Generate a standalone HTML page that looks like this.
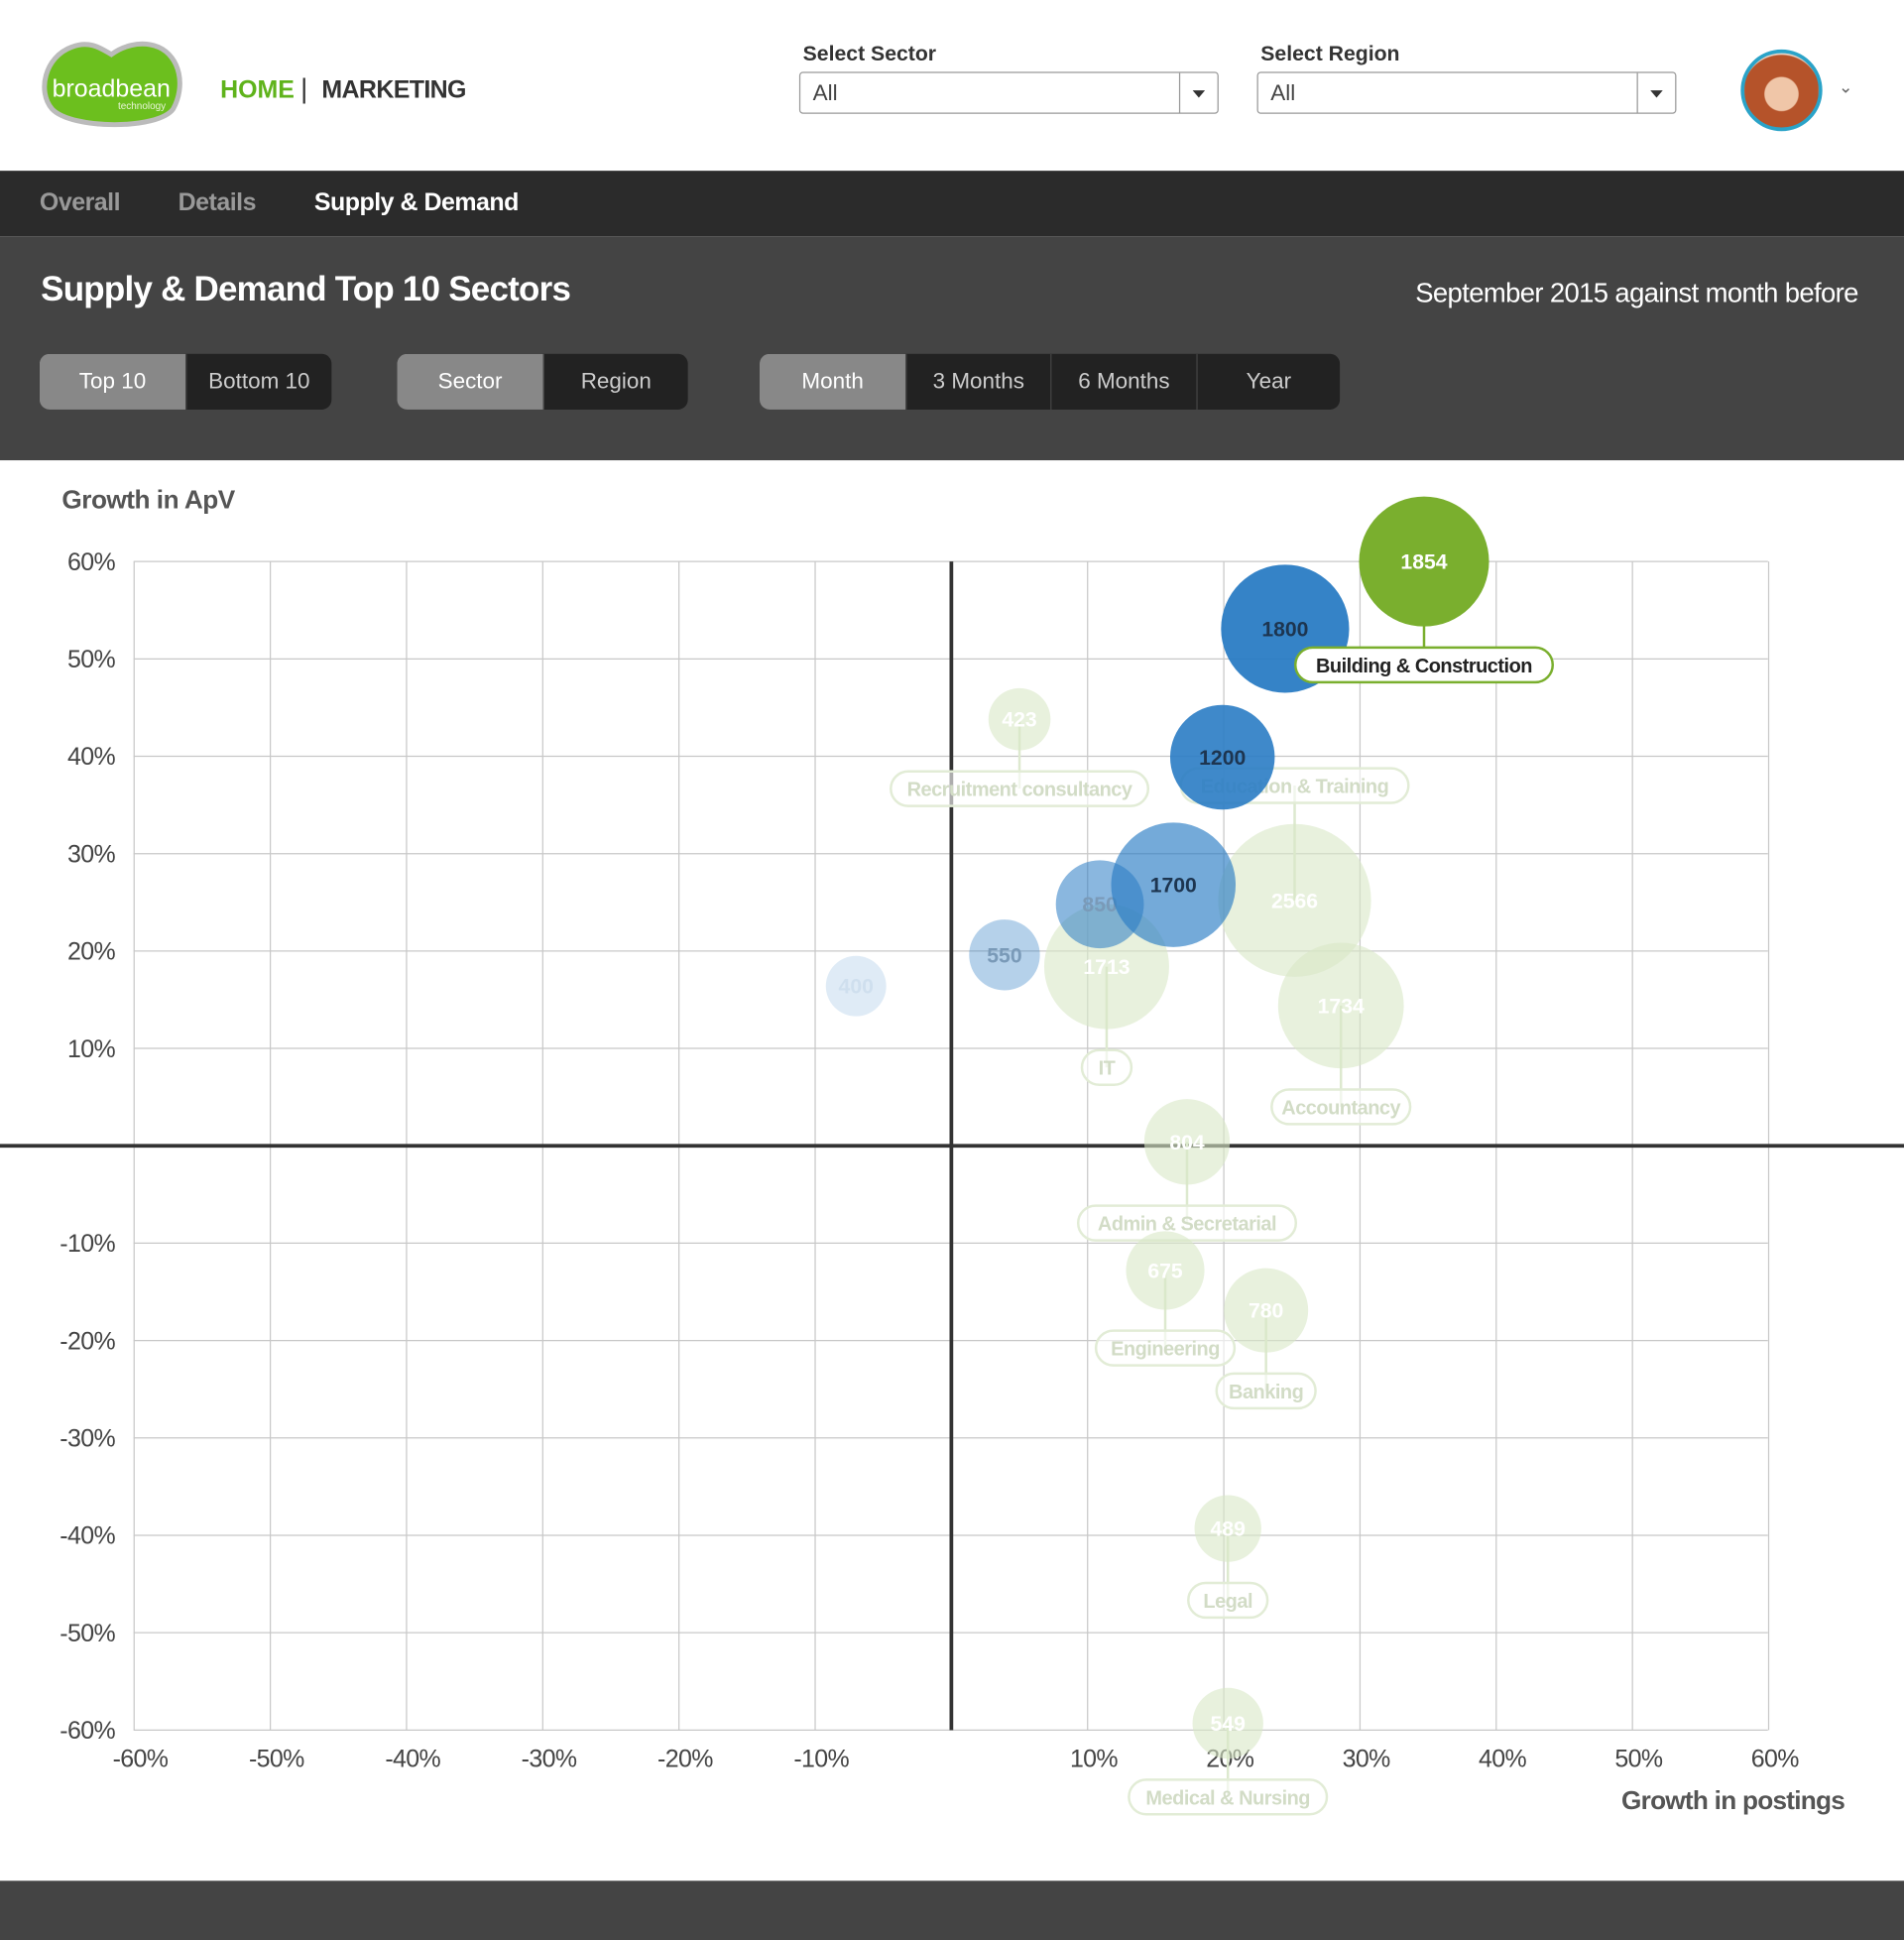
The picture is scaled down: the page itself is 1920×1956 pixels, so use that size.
<!DOCTYPE html>
<html><head><meta charset="utf-8">
<style>
html,body{margin:0;padding:0;width:1920px;height:1956px;overflow:hidden;background:#fff;font-family:"Liberation Sans",sans-serif;}
#wrap{position:absolute;left:0;top:0;width:1539px;height:1568px;transform:scale(1.24756);transform-origin:0 0;}
.abs{position:absolute;}
.lbl{font-size:17px;font-weight:bold;color:#333;}
.sel{position:absolute;height:34px;border:1px solid #999;border-radius:3px;background:#fff;font-size:18px;color:#444;box-sizing:border-box;padding:6px 10px;}
.sel .arr{position:absolute;right:0;top:0;width:30px;height:32px;border-left:1px solid #999;}
.sel .arr:after{content:"";position:absolute;left:10px;top:14px;border-left:5px solid transparent;border-right:5px solid transparent;border-top:6px solid #333;}
.grp{position:absolute;top:286px;height:45px;border-radius:8px;overflow:hidden;display:flex;background:#222;}
.grp div{height:45px;line-height:45px;text-align:center;color:#ccc;font-size:18px;border-left:1px solid #444;box-sizing:border-box;}
.grp div:first-child{border-left:none;}
.grp .on{background:#888;color:#fff;}
.nav{position:absolute;top:153px;font-size:20px;font-weight:bold;color:#999;letter-spacing:-0.4px;}
</style></head><body>
<div id="wrap">
<div class="abs" style="left:0;top:0;width:1539px;height:138px;background:#fff"></div>
<svg class="abs" style="left:28px;top:30px" width="126" height="78">
<path d="M30 8 C45 2 55 10 62 14 C70 8 85 2 100 8 C118 16 122 40 112 58 C100 75 30 75 14 58 C2 44 8 16 30 8Z" fill="#6cbf1e" stroke="#bbb" stroke-width="4"/>
<text x="62" y="48" text-anchor="middle" fill="#fff" font-size="20" font-family="Liberation Sans">broadbean</text>
<text x="106" y="58" text-anchor="end" fill="#e8f5d8" font-size="8" font-family="Liberation Sans">technology</text>
</svg>
<div class="abs" style="left:178px;top:62px;font-size:20px;font-weight:bold;color:#5fb31b">HOME</div>
<div class="abs" style="left:243px;top:59px;font-size:22px;color:#333">|</div>
<div class="abs" style="left:260px;top:62px;font-size:20px;font-weight:bold;color:#333;letter-spacing:-0.5px">MARKETING</div>
<div class="abs lbl" style="left:649px;top:34px">Select Sector</div>
<div class="sel" style="left:646px;top:58px;width:339px">All<div class="arr"></div></div>
<div class="abs lbl" style="left:1019px;top:34px">Select Region</div>
<div class="sel" style="left:1016px;top:58px;width:339px">All<div class="arr"></div></div>
<div class="abs" style="left:1407px;top:40px;width:60px;height:60px;border-radius:50%;border:3px solid #2aa3c8;background:radial-gradient(circle at 50% 55%,#f0c6a8 0 30%,#b5532a 32% 70%,#e8d6c8 72%)"></div>
<div class="abs" style="left:1486px;top:62px;font-size:14px;color:#666">&#8964;</div>

<div class="abs" style="left:0;top:138px;width:1539px;height:53px;background:#2b2b2b"></div>
<div class="nav" style="left:32px">Overall</div>
<div class="nav" style="left:144px">Details</div>
<div class="nav" style="left:254px;color:#fff">Supply &amp; Demand</div>

<div class="abs" style="left:0;top:191px;width:1539px;height:181px;background:#444"></div>
<div class="abs" style="left:33px;top:218px;font-size:28px;font-weight:bold;color:#fff;letter-spacing:-0.6px">Supply &amp; Demand Top 10 Sectors</div>
<div class="abs" style="right:37px;top:224px;font-size:22px;color:#fff;letter-spacing:-0.5px">September 2015 against month before</div>
<div class="grp" style="left:32px"><div class="on" style="width:118px">Top 10</div><div style="width:118px">Bottom 10</div></div>
<div class="grp" style="left:321px"><div class="on" style="width:118px">Sector</div><div style="width:117px">Region</div></div>
<div class="grp" style="left:614px"><div class="on" style="width:118px">Month</div><div style="width:117px">3 Months</div><div style="width:118px">6 Months</div><div style="width:116px">Year</div></div>

<div class="abs" style="left:0;top:1520px;width:1539px;height:48px;background:#444"></div>

<svg id="chart" class="abs" style="left:0;top:0" width="1539" height="1568"></svg>
</div>
<script>
const xTicks=[-60,-50,-40,-30,-20,-10,10,20,30,40,50,60];
const yTicks=[60,50,40,30,20,10,-10,-20,-30,-40,-50,-60];
const sectors=["Recruitment consultancy","Education & Training","IT","Accountancy","Admin & Secretarial","Engineering","Banking","Legal","Medical & Nursing"];
const sectorX=[5,25.2,11.4,28.6,17.3,15.7,23.1,20.3,20.3];
const sectorY=[43.8,25.2,18.4,14.4,0.4,-12.8,-16.9,-39.3,-59.3];
const sectorSize=[423,2566,1713,1734,804,675,780,489,549];
const sectorLabelSide=[1,-1,1,1,1,1,1,1,1];
const blueX=[-7,3.9,10.9,16.3,19.9,24.5];
const blueY=[16.4,19.6,24.8,26.8,39.9,53.1];
const blueSize=[400,550,850,1700,1200,1800];
const blueOpacity=[0.15,0.35,0.55,0.65,0.9,0.95];
const hiName="Building & Construction";
const hiX=34.7, hiY=60, hiSize=1854;

const NS="http://www.w3.org/2000/svg";
const svg=document.getElementById('chart');
const xs=v=>769+v*11.01;
const ys=v=>926-v*7.87;
const rs=v=>1.22*Math.sqrt(v);
function mk(tag,attrs,parent){const e=document.createElementNS(NS,tag);for(const k in attrs)e.setAttribute(k,attrs[k]);(parent||svg).appendChild(e);return e;}
const F='"Liberation Sans",sans-serif';

for(const t of xTicks){
 const l=mk('line',{x1:xs(t),x2:xs(t),y1:ys(60),y2:ys(-60),stroke:'#c8c8c8','stroke-width':1});
 
 
 const tx=mk('text',{x:xs(t)+5,y:1428,'text-anchor':'middle','font-size':20,fill:'#444','font-family':F,'letter-spacing':'-0.5'});
 tx.textContent=t+'%';
 
 
}
for(const t of yTicks){
 const l=mk('line',{x1:108,x2:1429,y1:ys(t),y2:ys(t),stroke:'#c8c8c8','stroke-width':1});
 
 
 const tx=mk('text',{x:93,y:ys(t)+7,'text-anchor':'end','font-size':20,fill:'#444','font-family':F,'letter-spacing':'-0.5'});
 tx.textContent=t+'%';
 
 
}
const zx=mk('line',{x1:xs(0),x2:xs(0),y1:ys(60),y2:ys(-60),stroke:'#333','stroke-width':3});


const zy=mk('line',{x1:0,x2:1539,y1:ys(0),y2:ys(0),stroke:'#333','stroke-width':3});


const yt=mk('text',{x:50,y:411,'font-size':21,'font-weight':'bold',fill:'#555','font-family':F,'letter-spacing':'-0.4'});
yt.textContent='Growth in ApV';


const xt=mk('text',{x:1491,y:1462,'text-anchor':'end','font-size':21,'font-weight':'bold',fill:'#555','font-family':F,'letter-spacing':'-0.6'});
xt.textContent='Growth in postings';



function pill(cx,cy,text,stroke,fill,col){
 const w=text.length*8+24;
 const r=mk('rect',{x:cx-w/2,y:cy-14,width:w,height:28,rx:14,fill:fill,stroke:stroke,'stroke-width':2});
 
 
 const t=mk('text',{x:cx,y:cy+6,'text-anchor':'middle','font-size':16,'font-weight':'bold',fill:col,'font-family':F,'letter-spacing':'-0.4'});
 t.textContent=text;
 
 
}
sectors.forEach((s,i)=>{
 const cx=xs(sectorX[i]),cy=ys(sectorY[i]),r=rs(sectorSize[i]);
 const ly=cy+sectorLabelSide[i]*(r+31);
 mk('line',{x1:cx,x2:cx,y1:cy,y2:ly,stroke:'#dde9cf','stroke-width':2});
 const c=mk('circle',{cx:cx,cy:cy,r:r,fill:'#d8e8c6','fill-opacity':0.6});
 
 
 const t=mk('text',{x:cx,y:cy+6,'text-anchor':'middle','font-size':17,'font-weight':'bold',fill:'#fff','font-family':F});
 t.textContent=sectorSize[i];
 
 
 pill(cx,ly,s,'#e2ecd6','rgba(255,255,255,0.6)','#d2dcc6');
});
blueX.forEach((v,i)=>{
 const cx=xs(v),cy=ys(blueY[i]),r=rs(blueSize[i]);
 const c=mk('circle',{cx:cx,cy:cy,r:r,fill:'#2a7cc4','fill-opacity':blueOpacity[i]});
 
 
 const t=mk('text',{x:cx,y:cy+6,'text-anchor':'middle','font-size':17,'font-weight':'bold',fill:blueOpacity[i]>0.6?'#1d3550':(blueOpacity[i]>0.3?'#7a9ab8':'#cfdfee'),'font-family':F});
 t.textContent=blueSize[i];
 
 
});
{
 const cx=xs(hiX),cy=ys(hiY),r=rs(hiSize);
 mk('line',{x1:cx,x2:cx,y1:cy,y2:cy+r+31,stroke:'#7aaf2e','stroke-width':2});
 const c=mk('circle',{cx:cx,cy:cy,r:r,fill:'#7aaf2e'});
 
 
 const t=mk('text',{x:cx,y:cy+6,'text-anchor':'middle','font-size':17,'font-weight':'bold',fill:'#fff','font-family':F});
 t.textContent=hiSize;
 
 
 pill(cx,cy+r+31,hiName,'#7aaf2e','#fff','#222');
}
</script>
</body></html>
